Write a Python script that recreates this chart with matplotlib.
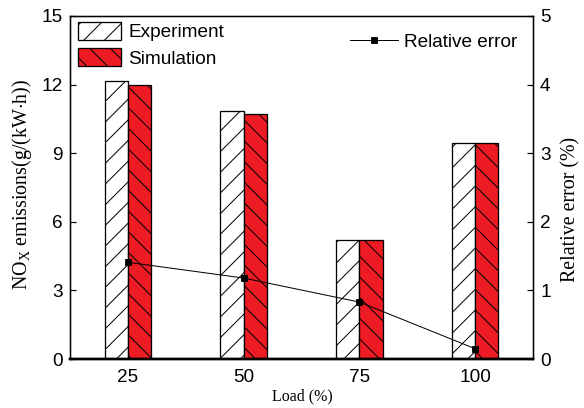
import matplotlib
matplotlib.use("Agg")
import matplotlib.pyplot as plt
import numpy as np

# Engine load points and NOx results
loads = ["25", "50", "75", "100"]
experiment = [12.15, 10.85, 5.20, 9.46]
simulation = [12.00, 10.72, 5.22, 9.46]
relative_error = [1.41, 1.18, 0.83, 0.15]

DPI = 62
W, H = 584, 408


def px(v):
    """Convert a size in pixels to points at the figure dpi."""
    return v * 72.0 / DPI


plt.rcParams["font.family"] = "Liberation Sans"
plt.rcParams["mathtext.fontset"] = "custom"
plt.rcParams["mathtext.rm"] = "Liberation Serif"
plt.rcParams["hatch.linewidth"] = px(1.0)

fig = plt.figure(figsize=(W / DPI, H / DPI), dpi=DPI)
ax = fig.add_axes([70 / W, 1 - 359 / H, (533 - 70) / W, (359 - 16) / H])

x = np.arange(len(loads))
w = 0.2
ax.bar(x - w / 2, experiment, w, color="white", edgecolor="black",
       hatch="/", linewidth=px(1.3), label="Experiment")
ax.bar(x + w / 2, simulation, w, color="#ED1C24", edgecolor="black",
       hatch="\\", linewidth=px(1.3), label="Simulation")

ax.set_xlim(-0.5, 3.5)
ax.set_ylim(0, 15)
ax.set_yticks([0, 3, 6, 9, 12, 15])
ax.set_xticks(x)
ax.set_xticklabels(loads)
ax.tick_params(axis="y", direction="in", length=px(6), width=px(1.2),
               labelsize=px(19), pad=px(7))
ax.tick_params(axis="x", length=0, labelsize=px(19), pad=px(10))

ax2 = ax.twinx()
ax2.plot(x, relative_error, color="black", marker="s", markersize=px(6),
         linewidth=px(1.0), label="Relative error")
ax2.set_ylim(0, 5)
ax2.set_yticks([0, 1, 2, 3, 4, 5])
ax2.tick_params(axis="y", direction="in", length=px(6), width=px(1.2),
                labelsize=px(19), pad=px(7))

for a in (ax, ax2):
    for s in a.spines.values():
        s.set_linewidth(px(1.3))
    a.spines["bottom"].set_linewidth(px(2.4))

h1, l1 = ax.get_legend_handles_labels()
fig.legend(h1, l1, loc="upper left", bbox_to_anchor=(78 / W, 1 - 22 / H),
           frameon=False, fontsize=px(19), borderpad=0, borderaxespad=0,
           handlelength=2.26, handleheight=1.05, handletextpad=0.4,
           labelspacing=0.37)
h2, l2 = ax2.get_legend_handles_labels()
fig.legend(h2, l2, loc="center left", bbox_to_anchor=(350 / W, 1 - 42 / H),
           frameon=False, fontsize=px(19), borderpad=0, borderaxespad=0,
           handlelength=2.5, handletextpad=0.35)

fig.text(22 / W, 1 - 184 / H, r"NO$_\mathrm{X}$ emissions(g/(kW$\cdot$h))",
         family="Liberation Serif", fontsize=px(20), rotation=90,
         ha="center", va="center")
fig.text(571 / W, 1 - 209 / H, "Relative error (%)",
         family="Liberation Serif", fontsize=px(20), rotation=90,
         ha="center", va="center")
fig.text(302 / W, 1 - 396 / H, "Load (%)",
         family="Liberation Serif", fontsize=px(16), ha="center", va="center")

fig.savefig("out.png", dpi=DPI)
